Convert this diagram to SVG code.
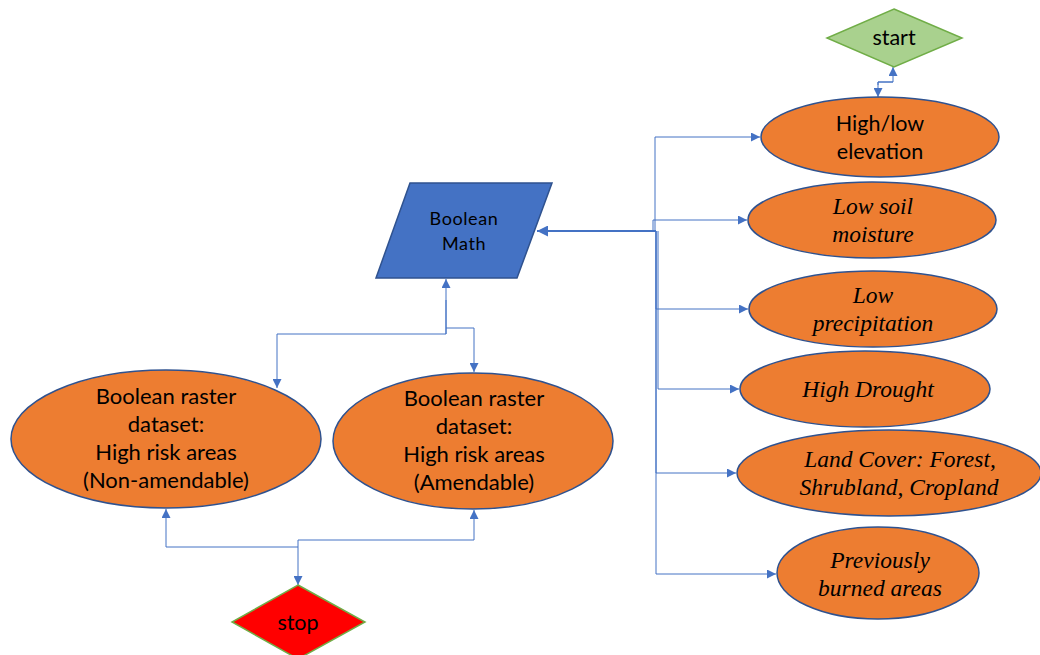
<svg xmlns="http://www.w3.org/2000/svg" width="1040" height="655" viewBox="0 0 1040 655">
  <style>
    .oval { fill: #ED7D31; stroke: #2F528F; stroke-width: 1.5; }
    .sans { font-family: Lato, "Open Sans", "Liberation Sans", sans-serif; fill: #000; text-anchor: middle; }
    .serif { font-family: "Liberation Serif", "Times New Roman", serif; font-style: italic; fill: #000; text-anchor: middle; font-size: 23.5px; }
    .link { fill: none; stroke: #4472C4; stroke-width: 1; }
    .link.main { stroke-width: 2; }
  </style>
  <defs>
    <marker id="arrow" viewBox="0 0 10 10" refX="10" refY="5" markerWidth="9" markerHeight="9" markerUnits="userSpaceOnUse" orient="auto">
      <path d="M0,0 L10,5 L0,10 z" fill="#4472C4"/>
    </marker>
    <marker id="arrowBig" viewBox="0 0 10 10" refX="10" refY="5" markerWidth="11" markerHeight="11" markerUnits="userSpaceOnUse" orient="auto">
      <path d="M0,0 L10,5 L0,10 z" fill="#4472C4"/>
    </marker>
  </defs>

  <!-- connectors -->
  <g id="connectors">
    <!-- start <-> elevation -->
    <path class="link" d="M878,85 V82 H893 V67" marker-end="url(#arrow)"/>
    <path class="link" d="M893,82 H878 V97" marker-end="url(#arrow)"/>
    <!-- criteria bus into Boolean Math -->
    <path class="link main" d="M656,231 H537" marker-end="url(#arrowBig)"/>
    <path class="link" d="M655,231 V137 H760" marker-end="url(#arrow)"/>
    <path class="link" d="M653,231 V220 H747" marker-end="url(#arrow)"/>
    <path class="link" d="M656,231 V309 H748" marker-end="url(#arrow)"/>
    <path class="link" d="M658,231 V389 H739" marker-end="url(#arrow)"/>
    <path class="link" d="M656,231 V473 H736" marker-end="url(#arrow)"/>
    <path class="link" d="M656,231 V574 H776" marker-end="url(#arrow)"/>
    <!-- Boolean Math <-> raster datasets -->
    <path class="link" d="M446,334 V279" marker-end="url(#arrow)"/>
    <path class="link" d="M446,300 V334 H277 V388" marker-end="url(#arrow)"/>
    <path class="link" d="M446,328 H474 V372" marker-end="url(#arrow)"/>
    <!-- raster datasets <-> stop -->
    <path class="link" d="M298,547 H166 V509" marker-end="url(#arrow)"/>
    <path class="link" d="M298,540 H474 V510" marker-end="url(#arrow)"/>
    <path class="link" d="M298,540 V585" marker-end="url(#arrow)"/>
  </g>

  <g id="start">
    <polygon points="894,9 962,38 894,67 827,38" fill="#A9D18E" stroke="#70AD47" stroke-width="1.5"/>
    <text class="sans" x="894" y="45" font-size="21.5">start</text>
  </g>

  <g id="elevation">
    <ellipse class="oval" cx="880" cy="137" rx="119" ry="40"/>
    <text class="sans" font-size="21.5"><tspan x="880" y="131">High/low</tspan><tspan x="880" y="159">elevation</tspan></text>
  </g>

  <g id="soil-moisture">
    <ellipse class="oval" cx="872" cy="220" rx="124" ry="38"/>
    <text class="serif"><tspan x="873" y="214">Low soil</tspan><tspan x="873" y="242">moisture</tspan></text>
  </g>

  <g id="precipitation">
    <ellipse class="oval" cx="873" cy="309" rx="124" ry="38"/>
    <text class="serif"><tspan x="873" y="303">Low</tspan><tspan x="873" y="331">precipitation</tspan></text>
  </g>

  <g id="drought">
    <ellipse class="oval" cx="865" cy="389" rx="125" ry="38"/>
    <text class="serif" x="868" y="397">High Drought</text>
  </g>

  <g id="land-cover">
    <ellipse class="oval" cx="889" cy="473" rx="152" ry="43"/>
    <text class="serif"><tspan x="900" y="467">Land Cover: Forest,</tspan><tspan x="899" y="495">Shrubland, Cropland</tspan></text>
  </g>

  <g id="burned">
    <ellipse class="oval" cx="878" cy="573" rx="101" ry="46"/>
    <text class="serif"><tspan x="880" y="568">Previously</tspan><tspan x="880" y="596">burned areas</tspan></text>
  </g>

  <g id="boolean-math">
    <polygon points="410,183 552,183 517,278 376,278" fill="#4472C4" stroke="#2F528F" stroke-width="1.5"/>
    <text class="sans" font-size="18" letter-spacing="0.6"><tspan x="464" y="225">Boolean</tspan><tspan x="464" y="250">Math</tspan></text>
  </g>

  <g id="non-amendable">
    <ellipse class="oval" cx="166" cy="439" rx="155" ry="69"/>
    <text class="sans" font-size="22"><tspan x="166" y="404">Boolean raster</tspan><tspan x="166" y="432">dataset:</tspan><tspan x="166" y="460">High risk areas</tspan><tspan x="166" y="488">(Non-amendable)</tspan></text>
  </g>

  <g id="amendable">
    <ellipse class="oval" cx="473" cy="441" rx="140" ry="68"/>
    <text class="sans" font-size="22"><tspan x="474" y="406">Boolean raster</tspan><tspan x="474" y="434">dataset:</tspan><tspan x="474" y="462">High risk areas</tspan><tspan x="474" y="490">(Amendable)</tspan></text>
  </g>

  <g id="stop">
    <polygon points="298,585 365,622 298,659 232,622" fill="#FF0000" stroke="#70AD47" stroke-width="1.5"/>
    <text class="sans" x="298" y="630" font-size="21.5">stop</text>
  </g>
</svg>
